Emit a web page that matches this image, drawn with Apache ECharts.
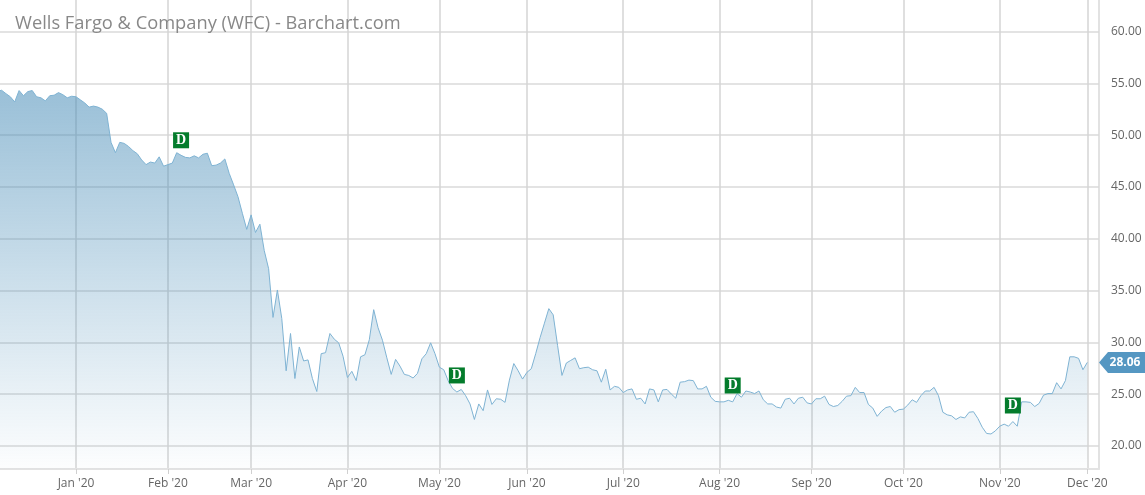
<!DOCTYPE html>
<html>
<head>
    <meta charset="utf-8">
    <title>Wells Fargo & Company (WFC) - Barchart.com</title>
    <script src="https://cdn.jsdelivr.net/npm/echarts@6/dist/echarts.min.js"></script>
    <style>
        html, body { margin: 0; padding: 0; background: #fff; }
        #main { width: 1145px; height: 495px; }
    </style>
</head>
<body>
<div id="main"></div>
<script>
// x is the trading day number, the chart has no gaps for weekends
var monthLabels = ["Jan '20", "Feb '20", "Mar '20", "Apr '20", "May '20", "Jun '20", "Jul '20", "Aug '20", "Sep '20", "Oct '20", "Nov '20", "Dec '20"];
var monthDays = [18, 39, 58, 80, 101, 121, 143, 165, 186, 207, 229, 249];
var priceTicks = [20, 25, 30, 35, 40, 45, 50, 55, 60];

var closes = [
    54.2, 54.33, 54.0, 53.7, 53.2, 54.3, 53.8, 54.2, 54.3, 53.7,
    53.6, 53.3, 53.8, 53.85, 54.1, 53.9, 53.6, 53.75, 53.7, 53.4,
    53.1, 52.7, 52.8, 52.7, 52.5, 52.1, 49.3, 48.3, 49.3, 49.2,
    48.9, 48.5, 48.2, 47.6, 47.15, 47.4, 47.3, 47.9, 47.0, 47.15,
    47.3, 48.3, 48.05, 47.85, 47.8, 48.0, 47.8, 48.15, 48.25, 47.05,
    47.1, 47.3, 47.7, 46.3, 45.2, 44.05, 42.45, 40.9, 42.3, 40.6,
    41.4, 38.85, 37.1, 32.4, 35.05, 32.3, 27.25, 30.85, 26.5, 29.55,
    28.2, 28.3, 26.5, 25.25, 28.9, 29.0, 30.85, 30.3, 29.95, 28.65,
    26.6, 27.2, 26.3, 28.6, 28.8, 30.25, 33.15, 31.4, 30.2, 28.5,
    26.9, 28.35, 27.7, 26.9, 26.8, 26.55, 27.0, 28.4, 28.9, 29.95,
    28.9, 27.6, 27.35, 26.3, 25.55, 25.2, 25.45, 24.85, 24.05, 22.55,
    24.05, 23.4, 25.4, 24.0, 24.55, 24.5, 24.2, 26.35, 27.95, 27.25,
    26.45, 27.1, 27.45, 28.9, 30.45, 31.85, 33.25, 32.65, 29.7, 26.8,
    28.0, 28.25, 28.5, 27.45, 27.55, 27.6, 27.35, 27.25, 26.15, 27.4,
    25.4, 25.75, 25.65, 25.15, 25.4, 25.5, 24.5, 24.6, 24.05, 25.5,
    25.4, 24.25, 25.4, 25.45, 25.0, 24.6, 26.15, 26.2, 26.35, 26.3,
    25.5, 25.5, 25.75, 24.7, 24.3, 24.25, 24.25, 24.4, 24.25, 25.05,
    24.7, 25.3, 25.2, 25.05, 25.3, 24.45, 24.05, 24.05, 23.75, 23.65,
    24.5, 24.6, 24.05, 24.6, 24.7, 24.15, 24.05, 24.55, 24.55, 24.8,
    24.0, 23.8, 23.9, 24.3, 24.8, 24.85, 25.65, 25.15, 25.15, 24.0,
    23.65, 22.85, 23.35, 23.7, 23.8, 23.25, 23.5, 23.55, 23.95, 24.45,
    24.2, 24.85, 25.3, 25.3, 25.65, 24.85, 23.25, 23.0, 22.9, 22.55,
    22.8, 22.7, 23.25, 23.3, 22.65, 21.8, 21.2, 21.15, 21.45, 21.9,
    22.1, 21.9, 22.35, 21.9, 24.25, 24.25, 24.2, 23.8, 24.1, 24.9,
    25.05, 25.05, 26.1, 25.5, 26.3, 28.6, 28.6, 28.45, 27.35, 28.06
];

// dividend flags
var dividendDays = [42, 105, 168, 232];
var dividendLevels = [49.5, 26.8, 25.83, 23.9];

var dayMin = 0.64, dayMax = 251.67;
var priceMin = 17.77, priceMax = 63.04;

var chart = echarts.init(document.getElementById('main'));
var fontName = '"Open Sans", "Noto Sans", sans-serif';

var option = {
    animation: false,
    title: {
        text: 'Wells Fargo & Company (WFC) - Barchart.com',
        left: 10,
        top: 10,
        textStyle: { color: '#888', fontSize: 18.3, fontWeight: 'normal', fontFamily: fontName }
    },
    grid: { left: 0, top: 0, right: 46, bottom: 26 },
    xAxis: {
        type: 'value',
        min: dayMin,
        max: dayMax,
        axisLine: { show: true, onZero: false, lineStyle: { color: '#e3e3e3', width: 2 } },
        axisTick: { show: true, customValues: monthDays, length: 5, lineStyle: { color: '#d0d0d0' } },
        axisLabel: {
            customValues: monthDays,
            color: '#666',
            fontSize: 12,
            fontFamily: fontName,
            margin: 9,
            formatter: function (v) { return monthLabels[monthDays.indexOf(v)]; }
        },
        splitLine: { show: true, lineStyle: { color: '#d4d4d4', width: 1.5 } }
    },
    yAxis: {
        type: 'value',
        position: 'right',
        min: priceMin,
        max: priceMax,
        axisLine: { show: true, lineStyle: { color: '#d8d8d8', width: 1.5 } },
        axisTick: { show: false, customValues: priceTicks },
        axisLabel: {
            customValues: priceTicks,
            color: '#666',
            fontSize: 12,
            fontFamily: fontName,
            margin: 12,
            formatter: function (v) { return v.toFixed(2); }
        },
        splitLine: { show: true, lineStyle: { color: '#e3e3e3', width: 2 } }
    },
    series: [{
        name: 'WFC',
        type: 'line',
        showSymbol: false,
        data: closes.map(function (v, i) { return [i, v]; }),
        lineStyle: { color: '#7fb3d3', width: 1 },
        areaStyle: {
            origin: 'start',
            opacity: 1,
            color: new echarts.graphic.LinearGradient(0, 0, 0, 1, [
                { offset: 0, color: 'rgba(68,138,182,0.54)' },
                { offset: 1, color: 'rgba(68,138,182,0.01)' }
            ])
        }
    }, {
        name: 'Dividend',
        type: 'scatter',
        symbol: 'rect',
        symbolSize: 16,
        z: 5,
        data: dividendDays.map(function (d, i) { return [d, dividendLevels[i]]; }),
        itemStyle: { color: '#047c2c', opacity: 1 },
        label: {
            show: true,
            position: 'inside',
            formatter: 'D',
            color: '#fff',
            fontSize: 14,
            fontWeight: 'bold',
            fontFamily: '"Liberation Serif", "DejaVu Serif", serif'
        }
    }, {
        name: 'Last',
        type: 'scatter',
        clip: false,
        z: 6,
        symbol: 'path://M0 10 L9 0 L46 0 L46 20 L9 20 Z',
        symbolKeepAspect: false,
        symbolSize: [46, 21],
        symbolOffset: [23, 0],
        data: [[dayMax, closes[closes.length - 1]]],
        itemStyle: { color: '#5597c2', opacity: 1 },
        label: {
            show: true,
            position: 'inside',
            offset: [3, 0],
            formatter: function (p) { return p.value[1].toFixed(2); },
            color: '#fff',
            fontSize: 12,
            fontWeight: 'bold',
            fontFamily: fontName
        }
    }]
};
chart.setOption(option);
</script>
</body>
</html>
